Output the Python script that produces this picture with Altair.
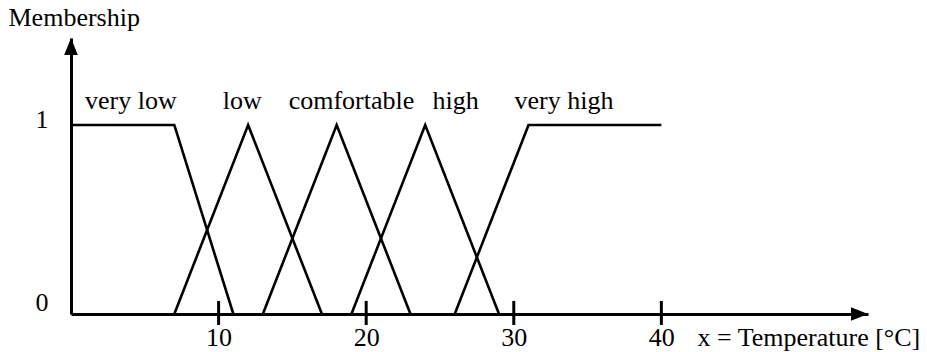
import altair as alt
import pandas as pd

# membership functions (temperature, membership)
names = ["very low", "low", "comfortable", "high", "very high"]
very_low_x = [0, 7, 11]
very_low_y = [1, 1, 0]
low_x = [7, 12, 17]
low_y = [0, 1, 0]
comfortable_x = [13, 18, 23]
comfortable_y = [0, 1, 0]
high_x = [19, 24, 29]
high_y = [0, 1, 0]
very_high_x = [26, 31, 40]
very_high_y = [0, 1, 1]

label_x = [4.06, 11.6, 19.0, 26.06, 33.4]
label_y = 1.085

tick_values = [10, 20, 30, 40]
y_ticks = [0, 1]

X_MAX = 54
Y_MAX = 1.46
FONT = "Liberation Serif"

series = [very_low_x, low_x, comfortable_x, high_x, very_high_x]
series_y = [very_low_y, low_y, comfortable_y, high_y, very_high_y]
rows = []
for n, xs, ys in zip(names, series, series_y):
    for i, (a, b) in enumerate(zip(xs, ys)):
        rows.append({"name": n, "x": a, "y": b, "i": i})
df_lines = pd.DataFrame(rows)

df_labels = pd.DataFrame({"x": label_x, "y": [label_y] * len(names), "label": names})
df_ticks = pd.DataFrame({"x": tick_values, "y": [-0.058] * 4, "y2": [0.069] * 4})
df_xarrow = pd.DataFrame({"x": [X_MAX], "y": [0]})
df_yarrow = pd.DataFrame({"x": [0], "y": [Y_MAX]})

xscale = alt.Scale(domain=[0, X_MAX], nice=False, zero=False)
yscale = alt.Scale(domain=[0, Y_MAX], nice=False, zero=False)

x_axis = alt.Axis(
    values=tick_values, format="d", domain=True, domainColor="black", domainWidth=3,
    ticks=False, tickSize=0, grid=False,
    labelFont=FONT, labelFontSize=26, labelColor="black",
    labelBaseline="alphabetic", labelPadding=31, labelFlush=False, labelOverlap=False,
    title="x = Temperature [°C]", titleFont=FONT, titleFontSize=26,
    titleFontWeight="normal", titleColor="black",
    titleX=626, titleY=31, titleAlign="left", titleBaseline="alphabetic",
)
y_axis = alt.Axis(
    values=y_ticks, format="d", domain=True, domainColor="black", domainWidth=3,
    ticks=False, tickSize=0, grid=False,
    labelFont=FONT, labelFontSize=26, labelColor="black",
    labelAlign="right", labelBaseline="alphabetic", labelPadding=23,
    labelFlush=False, labelOverlap=False,
    labelOffset={"condition": {"test": "datum.value == 0", "value": -4}, "value": 3},
    title="Membership", titleFont=FONT, titleFontSize=26,
    titleFontWeight="normal", titleColor="black", titleAngle=0,
    titleX=-63, titleY=-13, titleAlign="left", titleBaseline="alphabetic",
)

lines = alt.Chart(df_lines).mark_line(color="black", strokeWidth=2.6, clip=False).encode(
    x=alt.X("x:Q", scale=xscale, axis=x_axis),
    y=alt.Y("y:Q", scale=yscale, axis=y_axis),
    detail="name:N",
    order="i:O",
)

ticks = alt.Chart(df_ticks).mark_rule(color="black", strokeWidth=3, clip=False).encode(
    x="x:Q", y="y:Q", y2="y2:Q"
)

xarrow = alt.Chart(df_xarrow).mark_point(
    shape="M0,0L-2,-0.8L-2,0.8Z", size=289, filled=True, color="black", opacity=1, strokeWidth=0, clip=False
).encode(x="x:Q", y="y:Q")

yarrow = alt.Chart(df_yarrow).mark_point(
    shape="M0,0L-0.8,2L0.8,2Z", size=289, filled=True, color="black", opacity=1, strokeWidth=0, clip=False
).encode(x="x:Q", y="y:Q")

labels = alt.Chart(df_labels).mark_text(
    font=FONT, fontSize=26, color="black", align="center", baseline="alphabetic", clip=False
).encode(x="x:Q", y="y:Q", text="label:N")

chart = alt.layer(lines, ticks, xarrow, yarrow, labels).properties(
    width=797, height=276,
    autosize=alt.AutoSizeParams(type="none"),
    padding={"left": 63, "top": 30, "right": 51, "bottom": 37},
    background="white",
).configure_view(stroke=None)

chart.save("out.html", embed_options={"renderer": "svg", "actions": False})
